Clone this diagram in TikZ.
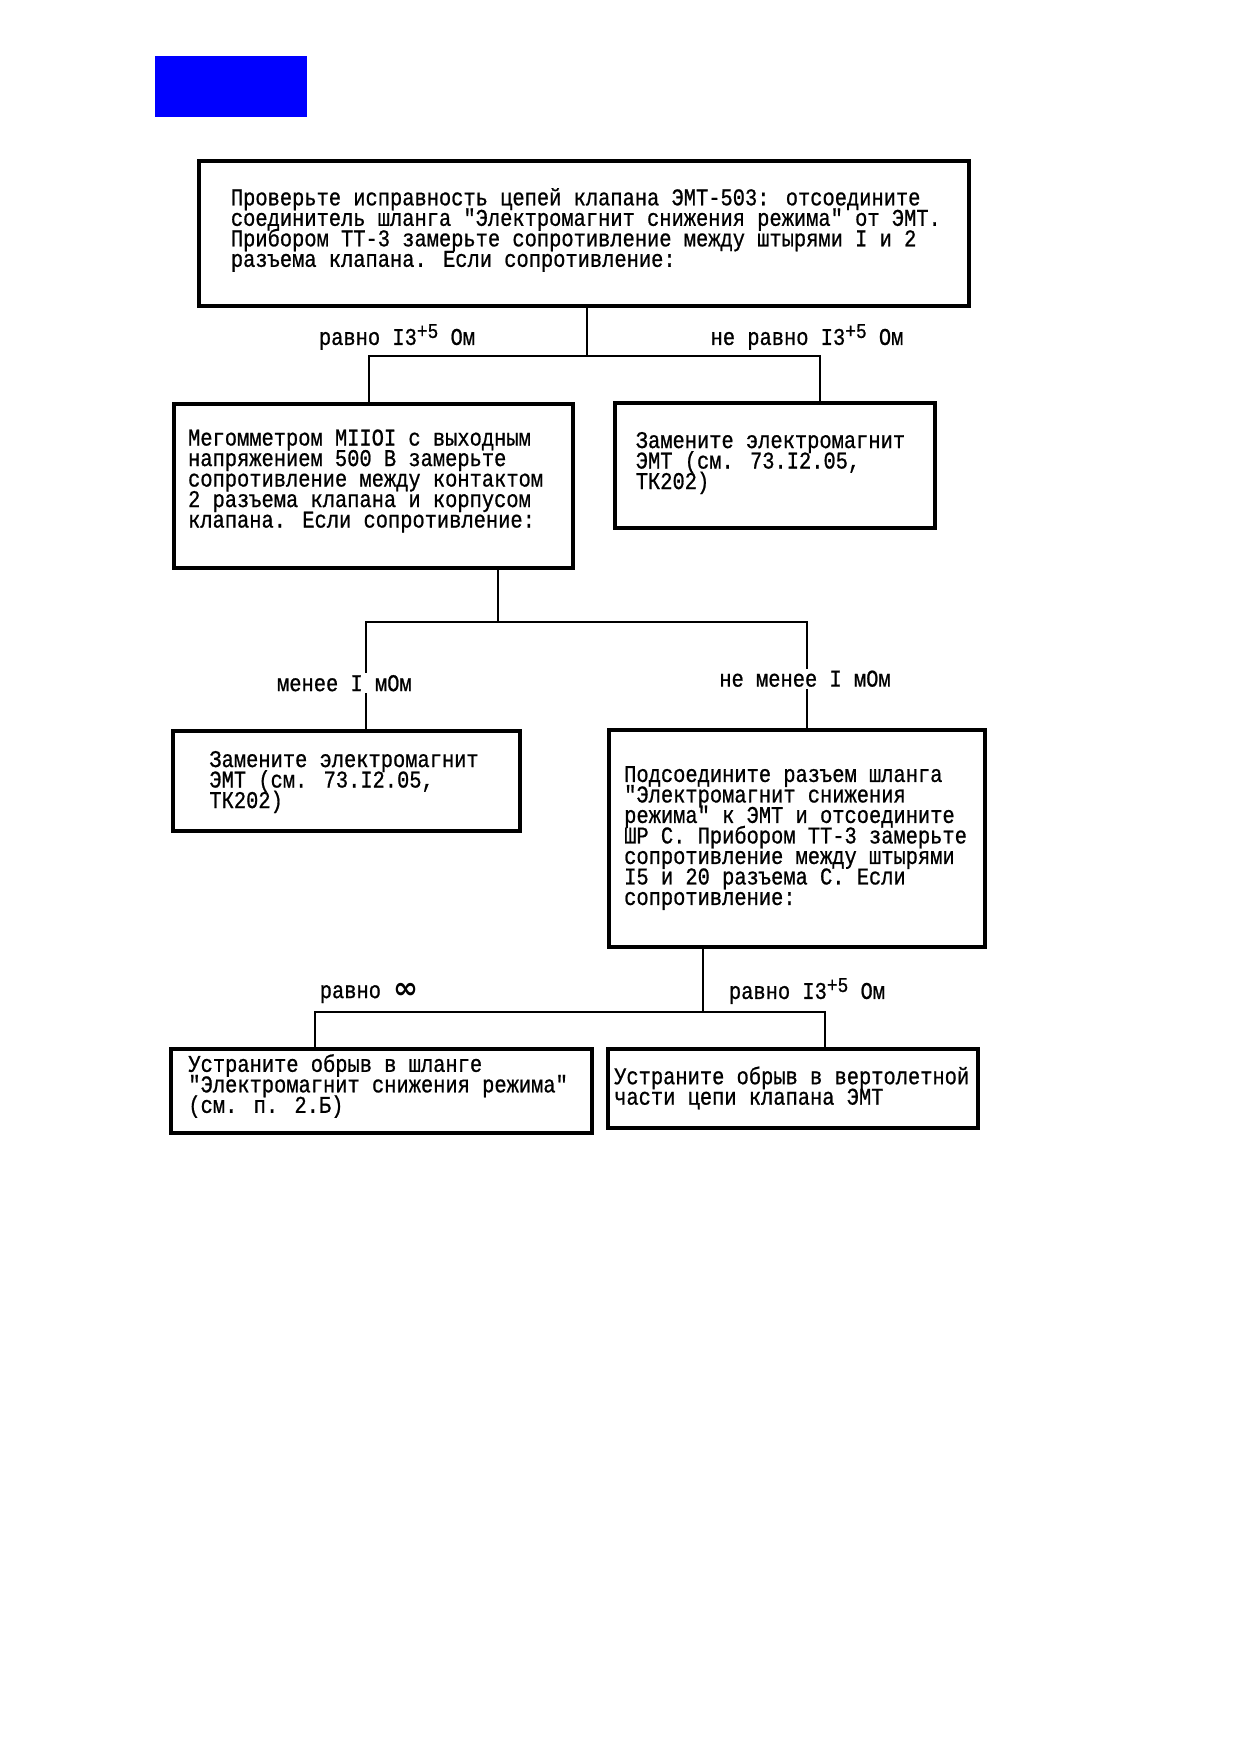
\documentclass[tikz,border=0pt]{standalone}
\usepackage{fontspec}
\newfontfamily\tw[FakeStretch=0.85,FakeBold=0.8]{Liberation Mono}
\newfontfamily\symf{DejaVu Sans}
\definecolor{pureblue}{RGB}{0,0,255}
\newcommand\twsize{\tw\fontsize{12}{10.25}\selectfont\lineskiplimit=-20pt\lineskip=0pt}
\newcommand\supf[1]{\raisebox{0.55ex}{\fontsize{10.5}{10}\selectfont #1}}
\tikzset{
  box/.style={draw, line width=1.8pt, inner sep=0pt, anchor=north west},
  txt/.style={anchor=west, align=left, inner sep=0pt, font=\twsize},
  lbl/.style={inner sep=1pt, font=\twsize},
  conn/.style={line width=1pt}
}
\begin{document}
\begin{tikzpicture}[x=0.5pt,y=-0.5pt]
\useasboundingbox (0,0) rectangle (1239,1754);
\fill[pureblue] (155,56) rectangle (307,117);

% boxes
\node[box, minimum width=385pt, minimum height=72.5pt] (box1) at (197,159) {};
\node[box, minimum width=199.5pt, minimum height=82pt] (box2) at (172,402) {};
\node[box, minimum width=160pt, minimum height=62.5pt] (box3) at (613,401) {};
\node[box, minimum width=173.5pt, minimum height=50pt] (box4) at (171,729) {};
\node[box, minimum width=188pt, minimum height=108.5pt] (box5) at (607,728) {};
\node[box, minimum width=210.5pt, minimum height=42pt] (box6) at (169,1047) {};
\node[box, minimum width=185pt, minimum height=39.5pt] (box7) at (606,1047) {};

% texts
\node[txt] (t1) at (230.5,230) {Проверьте исправность цепей клапана ЭМТ-503: отсоедините\\соединитель шланга "Электромагнит снижения режима" от ЭМТ.\\Прибором ТТ-3 замерьте сопротивление между штырями I и 2\\разъема клапана. Если сопротивление:};
\node[txt] (t2) at (187.7,481) {Мегомметром МIIОI с выходным\\напряжением 500 В замерьте\\сопротивление между контактом\\2 разъема клапана и корпусом\\клапана. Если сопротивление:};
\node[txt] (t3) at (635.4,463) {Замените электромагнит\\ЭМТ (см. 73.I2.05,\\ТК202)};
\node[txt] (t4) at (209,782) {Замените электромагнит\\ЭМТ (см. 73.I2.05,\\ТК202)};
\node[txt] (t5) at (623.8,838) {Подсоедините разъем шланга\\"Электромагнит снижения\\режима" к ЭМТ и отсоедините\\ШР С. Прибором ТТ-3 замерьте\\сопротивление между штырями\\I5 и 20 разъема С. Если\\сопротивление:};
\node[txt] (t6) at (188,1086) {Устраните обрыв в шланге\\"Электромагнит снижения режима"\\(см. п. 2.Б)};
\node[txt] (t7) at (613.8,1088) {Устраните обрыв в вертолетной\\части цепи клапана ЭМТ};

% connectors level 1
\coordinate (j1) at (587,356);
\coordinate (a2) at (369,356);
\coordinate (a3) at (820,356);
\draw[conn] (box1.south -| j1) -- (j1);
\draw[conn] (box2.north -| a2) -- (a2) -- (a3) -- (box3.north -| a3);

% connectors level 2
\coordinate (j2) at (497.6,621.7);
\coordinate (a4) at (365.6,621.7);
\coordinate (a5) at (807.3,621.7);
\draw[conn] (box2.south -| j2) -- (j2);
\draw[conn] (box4.north -| a4) -- (a4) -- (a5) -- (box5.north -| a5);

% connectors level 3
\coordinate (j3) at (703.3,1012);
\coordinate (a6) at (315.3,1012);
\coordinate (a7) at (825.2,1012);
\draw[conn] (box5.south -| j3) -- (j3);
\draw[conn] (box6.north -| a6) -- (a6) -- (a7) -- (box7.north -| a7);

% labels
\node[lbl] (l1) at (397,337) {равно I3\supf{+5} Ом};
\node[lbl] (l2) at (807,337) {не равно I3\supf{+5} Ом};
\node[lbl, fill=white] (l3) at (344.4,683.2) {менее I мОм};
\node[lbl, fill=white] (l4) at (805,678.7) {не менее I мОм};
\node[lbl] (l5) at (369,993) {равно {\symf\bfseries\fontsize{15}{12}\selectfont ∞}};
\node[lbl] (l6) at (807,991) {равно I3\supf{+5} Ом};
\end{tikzpicture}
\end{document}
